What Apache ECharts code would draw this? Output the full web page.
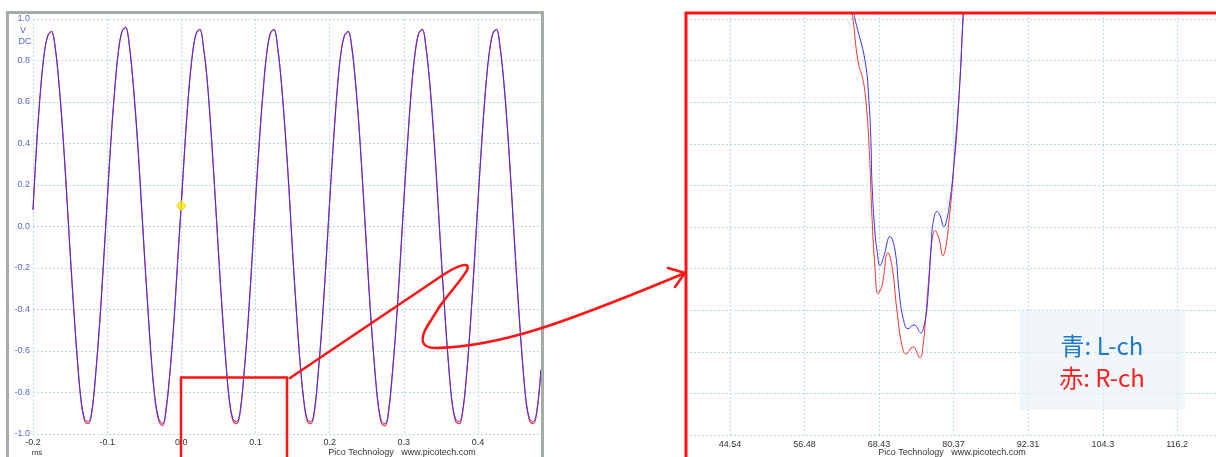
<!DOCTYPE html>
<html>
<head>
<meta charset="utf-8">
<script src="https://cdn.jsdelivr.net/npm/echarts@6/dist/echarts.min.js"></script>
<style>html,body{margin:0;padding:0;background:#fff;}#c{width:1216px;height:457px;}</style>
</head>
<body>
<div id="c"></div>
<script>
// ---- Left panel: full waveform (time in ms, voltage in V) ----
const timesMs = [
-0.2,-0.195,-0.19,-0.185,-0.18,-0.175,-0.17,-0.165,-0.16,-0.155,-0.15,-0.145,-0.14,-0.135,-0.13,-0.125,-0.12,-0.115,-0.11,-0.105,
-0.1,-0.095,-0.09,-0.085,-0.08,-0.075,-0.07,-0.065,-0.06,-0.055,-0.05,-0.045,-0.04,-0.035,-0.03,-0.025,-0.02,-0.015,-0.01,-0.005,
0,0.005,0.01,0.015,0.02,0.025,0.03,0.035,0.04,0.045,0.05,0.055,0.06,0.065,0.07,0.075,0.08,0.085,0.09,0.095,
0.1,0.105,0.11,0.115,0.12,0.125,0.13,0.135,0.14,0.145,0.15,0.155,0.16,0.165,0.17,0.175,0.18,0.185,0.19,0.195,
0.2,0.205,0.21,0.215,0.22,0.225,0.23,0.235,0.24,0.245,0.25,0.255,0.26,0.265,0.27,0.275,0.28,0.285,0.29,0.295,
0.3,0.305,0.31,0.315,0.32,0.325,0.33,0.335,0.34,0.345,0.35,0.355,0.36,0.365,0.37,0.375,0.38,0.385,0.39,0.395,
0.4,0.405,0.41,0.415,0.42,0.425,0.43,0.435,0.44,0.445,0.45,0.455,0.46,0.465,0.47,0.475,0.48,0.485];
const leftBlue = [
0.08,0.40,0.65,0.83,0.92,0.94,0.86,0.69,0.46,0.18,-0.12,-0.40,-0.65,-0.84,-0.93,-0.94,-0.87,-0.69,-0.46,-0.18,
0.12,0.41,0.65,0.84,0.94,0.96,0.87,0.69,0.46,0.18,-0.12,-0.40,-0.66,-0.84,-0.93,-0.95,-0.86,-0.69,-0.46,-0.17,
0.11,0.40,0.65,0.83,0.93,0.95,0.86,0.70,0.46,0.18,-0.12,-0.40,-0.65,-0.84,-0.93,-0.94,-0.87,-0.69,-0.46,-0.18,
0.12,0.40,0.64,0.83,0.93,0.95,0.86,0.69,0.46,0.19,-0.12,-0.40,-0.65,-0.83,-0.93,-0.94,-0.87,-0.69,-0.46,-0.18,
0.12,0.40,0.65,0.83,0.92,0.94,0.86,0.69,0.46,0.18,-0.12,-0.41,-0.65,-0.84,-0.94,-0.95,-0.87,-0.69,-0.46,-0.18,
0.12,0.40,0.65,0.83,0.93,0.95,0.86,0.69,0.46,0.18,-0.12,-0.40,-0.65,-0.84,-0.93,-0.94,-0.87,-0.70,-0.46,-0.18,
0.12,0.40,0.65,0.83,0.93,0.95,0.86,0.69,0.46,0.18,-0.12,-0.40,-0.65,-0.84,-0.93,-0.94,-0.87,-0.69];
const leftRed = [
0.08,0.40,0.65,0.83,0.92,0.94,0.86,0.69,0.46,0.18,-0.12,-0.40,-0.65,-0.85,-0.94,-0.95,-0.88,-0.69,-0.46,-0.18,
0.12,0.41,0.65,0.84,0.94,0.96,0.87,0.69,0.46,0.18,-0.12,-0.40,-0.66,-0.85,-0.94,-0.96,-0.87,-0.69,-0.46,-0.17,
0.11,0.40,0.65,0.83,0.93,0.95,0.86,0.70,0.46,0.18,-0.12,-0.40,-0.65,-0.85,-0.94,-0.95,-0.88,-0.69,-0.46,-0.18,
0.12,0.40,0.64,0.83,0.93,0.95,0.86,0.69,0.46,0.19,-0.12,-0.40,-0.65,-0.84,-0.94,-0.95,-0.88,-0.69,-0.46,-0.18,
0.12,0.40,0.65,0.83,0.92,0.94,0.86,0.69,0.46,0.18,-0.12,-0.41,-0.65,-0.85,-0.95,-0.96,-0.88,-0.69,-0.46,-0.18,
0.12,0.40,0.65,0.83,0.93,0.95,0.86,0.69,0.46,0.18,-0.12,-0.40,-0.65,-0.85,-0.94,-0.95,-0.88,-0.70,-0.46,-0.18,
0.12,0.40,0.65,0.83,0.93,0.95,0.86,0.69,0.46,0.18,-0.12,-0.40,-0.65,-0.85,-0.94,-0.95,-0.88,-0.69];
const triggerPoint = [0, 0.10];

// ---- Right panel: zoom of one trough (time in µs) ----
const zoomTimesBlue = [64.41,64.57,66.18,66.82,67.14,67.30,67.78,68.10,68.58,69.22,70.18,70.98,71.63,72.27,73.07,74.03,75.15,75.63,76.11,76.75,77.07,77.72,78.20,78.84,79.32,79.80,80.28,80.60,81.40,81.88,82.2];
const zoomBlue      = [-0.7965,-0.80,-0.820,-0.840,-0.860,-0.879,-0.903,-0.911,-0.9186,-0.9138,-0.9046,-0.911,-0.9306,-0.9436,-0.9489,-0.947,-0.9509,-0.9475,-0.9388,-0.911,-0.8983,-0.8925,-0.8944,-0.8998,-0.896,-0.8872,-0.875,-0.8631,-0.8294,-0.80,-0.785];
const zoomTimesRed  = [64.05,64.25,65.05,65.86,66.34,66.82,67.30,67.78,68.26,68.90,69.86,70.50,71.30,72.11,72.75,73.87,74.99,75.47,75.95,76.43,76.91,77.40,78.04,78.68,79.16,79.64,80.12,80.44,80.76,81.40,81.88,82.2];
const zoomRed       = [-0.7965,-0.80,-0.8202,-0.8294,-0.840,-0.8603,-0.8954,-0.9195,-0.932,-0.9282,-0.9123,-0.9186,-0.9403,-0.9571,-0.961,-0.9576,-0.9629,-0.9571,-0.9417,-0.9234,-0.9065,-0.9017,-0.9056,-0.9138,-0.909,-0.8969,-0.8824,-0.8694,-0.8603,-0.8294,-0.80,-0.785];
const zoomTickLabels = [44.54, 56.48, 68.43, 80.37, 92.31, 104.3, 116.2];

const legendLines = ['青: L-ch', '赤: R-ch'];
const footerText = 'Pico Technology   www.picotech.com';

const BLUE = '#3333ff', RED = '#ff3030';
const gridLine = {show: true, lineStyle: {color: '#b9dbe8', type: [2, 2], width: 1}};
const tickFont = {fontFamily: 'Liberation Sans', fontSize: 9};

const chart = echarts.init(document.getElementById('c'), null, {renderer: 'canvas'});
const pairs = (xs, ys) => xs.map((x, i) => [x, ys[i]]);
const ARROW = {fill: 'none', stroke: '#ff1414', lineWidth: 2.5, lineCap: 'round'};

chart.setOption({
  animation: false,
  grid: [
    {left: 33, right: 1216 - 541, top: 19, bottom: 23},
    {left: 686, right: 0, top: 13, bottom: 22}
  ],
  xAxis: [
    {gridIndex: 0, type: 'value', min: -0.2, max: 0.485, interval: 0.1,
     axisLine: {show: false}, axisTick: {show: false}, splitLine: gridLine,
     axisLabel: Object.assign({color: '#333', margin: 4, showMaxLabel: false,
       formatter: v => v.toFixed(1)}, tickFont)},
    {gridIndex: 1, type: 'value', min: 37.49, max: 122.43,
     axisLine: {show: false},
     axisTick: {show: false, customValues: zoomTickLabels},
     splitLine: gridLine,
     axisLabel: Object.assign({color: '#333', margin: 5, customValues: zoomTickLabels,
       formatter: v => String(v)}, tickFont)}
  ],
  yAxis: [
    {gridIndex: 0, type: 'value', min: -1, max: 1, interval: 0.2,
     axisLine: {show: false}, axisTick: {show: false}, splitLine: gridLine,
     axisLabel: Object.assign({color: '#5563d6', margin: 3, formatter: v => v.toFixed(1)}, tickFont)},
    {gridIndex: 1, type: 'value', min: -1.0, max: -0.7971, interval: 0.02,
     axisLine: {show: false}, axisTick: {show: false}, splitLine: gridLine,
     axisLabel: {show: false}}
  ],
  series: [
    {type: 'line', xAxisIndex: 0, yAxisIndex: 0, data: pairs(timesMs, leftRed),
     showSymbol: false, smooth: 0.35, lineStyle: {color: RED, width: 1.2}, z: 2},
    {type: 'line', xAxisIndex: 0, yAxisIndex: 0, data: pairs(timesMs, leftBlue),
     showSymbol: false, smooth: 0.35, lineStyle: {color: BLUE, width: 1}, z: 3},
    {type: 'scatter', xAxisIndex: 0, yAxisIndex: 0, data: [triggerPoint],
     symbol: 'diamond', symbolSize: [9, 10],
     itemStyle: {color: '#fff200', borderColor: '#d8c800', borderWidth: 1}, z: 4},
    {type: 'line', xAxisIndex: 1, yAxisIndex: 1, data: pairs(zoomTimesRed, zoomRed),
     showSymbol: false, smooth: 0.45, clip: true, lineStyle: {color: RED, width: 1}, z: 2},
    {type: 'line', xAxisIndex: 1, yAxisIndex: 1, data: pairs(zoomTimesBlue, zoomBlue),
     showSymbol: false, smooth: 0.45, clip: true, lineStyle: {color: BLUE, width: 1}, z: 3}
  ],
  graphic: [
    {type: 'rect', z: 50, shape: {x: 7.5, y: 12.5, width: 535, height: 460},
     style: {fill: 'none', stroke: '#a3ada3', lineWidth: 3}},
    {type: 'text', z: 50, x: 23, y: 31, style: {text: 'V', fill: '#5563d6', font: '9px Liberation Sans', textAlign: 'center', textVerticalAlign: 'middle'}},
    {type: 'text', z: 50, x: 25, y: 42, style: {text: 'DC', fill: '#5563d6', font: '9px Liberation Sans', textAlign: 'center', textVerticalAlign: 'middle'}},
    {type: 'text', z: 50, x: 37, y: 453, style: {text: 'ms', fill: '#333', font: '8px Liberation Sans', textAlign: 'center', textVerticalAlign: 'middle'}},
    {type: 'text', z: 50, x: 402, y: 453, style: {text: footerText, fill: '#333', font: '9px Liberation Sans', textAlign: 'center', textVerticalAlign: 'middle'}},
    {type: 'text', z: 50, x: 952, y: 453, style: {text: footerText, fill: '#333', font: '9px Liberation Sans', textAlign: 'center', textVerticalAlign: 'middle'}},
    {type: 'polyline', z: 60, shape: {points: [[686, 470], [686, 13], [1220, 13]]},
     style: {fill: 'none', stroke: '#ff1414', lineWidth: 3}},
    {type: 'polyline', z: 60, shape: {points: [[181, 470], [181, 377.5], [287, 377.5], [287, 470]]},
     style: {fill: 'none', stroke: '#ff1414', lineWidth: 2.5}},
    {type: 'line', z: 60, shape: {x1: 290, y1: 378, x2: 443, y2: 275}, style: ARROW},
    {type: 'bezierCurve', z: 60, shape: {x1: 443, y1: 275, cpx1: 458, cpy1: 265, cpx2: 471, cpy2: 261, x2: 467, y2: 270}, style: ARROW},
    {type: 'bezierCurve', z: 60, shape: {x1: 467, y1: 270, cpx1: 464, cpy1: 277, cpx2: 450, cpy2: 292, x2: 440, y2: 306}, style: ARROW},
    {type: 'line', z: 60, shape: {x1: 440, y1: 306, x2: 428, y2: 325}, style: ARROW},
    {type: 'bezierCurve', z: 60, shape: {x1: 428, y1: 325, cpx1: 420, cpy1: 338, cpx2: 419, cpy2: 349, x2: 438, y2: 348}, style: ARROW},
    {type: 'bezierCurve', z: 60, shape: {x1: 438, y1: 348, cpx1: 500, cpy1: 346, cpx2: 560, cpy2: 325, x2: 685, y2: 273}, style: ARROW},
    {type: 'polyline', z: 60, shape: {points: [[668, 268], [685, 273], [675, 287]]}, style: ARROW},
    {type: 'rect', z: 70, shape: {x: 1020, y: 311, width: 165, height: 99},
     style: {fill: 'rgba(232,240,248,0.6)'}},
    {type: 'text', z: 71, x: 1102, y: 346, style: {text: legendLines[0], fill: '#1f78c8', font: '24px "Noto Sans CJK JP"', textAlign: 'center', textVerticalAlign: 'middle'}},
    {type: 'text', z: 71, x: 1102, y: 378, style: {text: legendLines[1], fill: '#ff1e1e', font: '24px "Noto Sans CJK JP"', textAlign: 'center', textVerticalAlign: 'middle'}}
  ]
});
</script>
</body>
</html>
